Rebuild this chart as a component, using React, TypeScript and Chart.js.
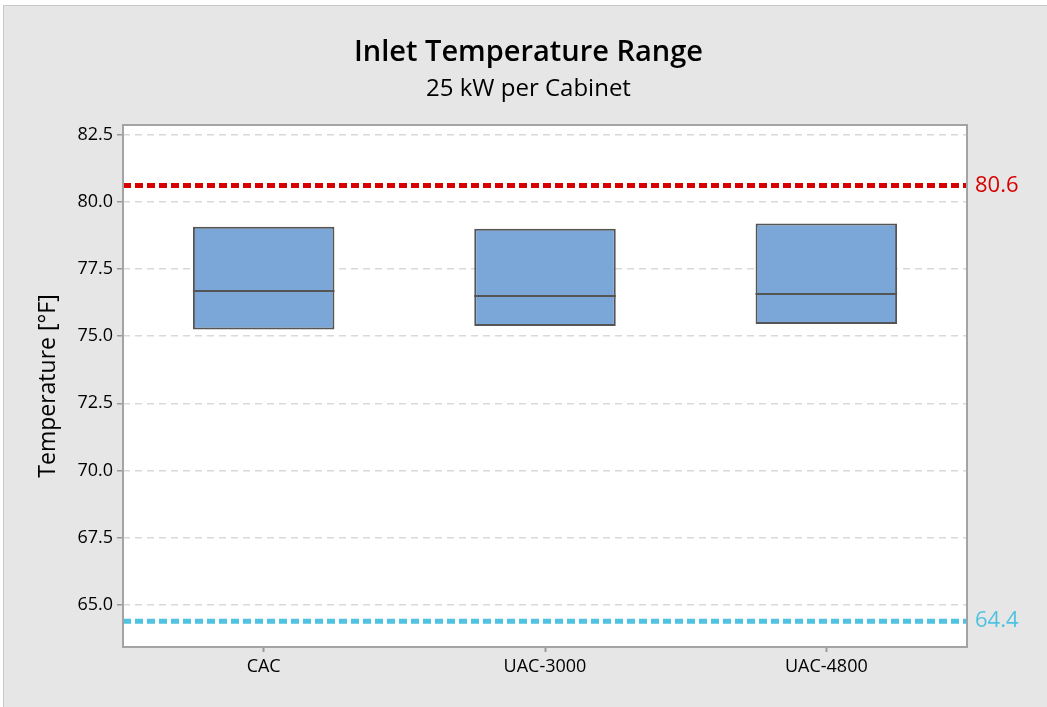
import React, { useEffect, useRef } from 'react';
import { Chart, registerables } from 'chart.js';

Chart.register(...registerables);

const CATEGORIES = ['CAC', 'UAC-3000', 'UAC-4800'];
const Q1 = [75.25, 75.38, 75.45];
const MEDIAN = [76.66, 76.5, 76.58];
const Q3 = [79.07, 78.99, 79.19];
const Y_TICKS = [65, 67.5, 70, 72.5, 75, 77.5, 80, 82.5];
const Y_MIN = 63.44;
const Y_MAX = 82.85;
const REF_VALUES = [80.6, 64.4];
const REF_LABELS = ['80.6', '64.4'];
const REF_COLORS = ['#d70000', '#4fc3e1'];

const FONT = "'Open Sans', 'DejaVu Sans', sans-serif";
const BOX_FILL = '#7ba7d8';
const BOX_EDGE = '#555555';
const FRAME = '#a3a3a3';

const framePlugin = {
  id: 'frame',
  beforeDraw(chart: any) {
    const { ctx, chartArea: a } = chart;
    ctx.save();
    ctx.fillStyle = '#ffffff';
    ctx.fillRect(a.left, a.top, a.right - a.left, a.bottom - a.top);
    ctx.restore();
  },
  afterDatasetsDraw(chart: any) {
    const { ctx } = chart;
    const y = chart.scales.y;
    const meta = chart.getDatasetMeta(0);
    ctx.save();
    ctx.strokeStyle = BOX_EDGE;
    ctx.lineWidth = 2;
    meta.data.forEach((bar: any, i: number) => {
      const py = Math.round(y.getPixelForValue(MEDIAN[i]));
      ctx.beginPath();
      ctx.moveTo(bar.x - bar.width / 2, py);
      ctx.lineTo(bar.x + bar.width / 2, py);
      ctx.stroke();
    });
    ctx.restore();
  },
  afterDraw(chart: any) {
    const { ctx, chartArea: a } = chart;
    const y = chart.scales.y;
    ctx.save();
    REF_VALUES.forEach((v, i) => {
      const py = y.getPixelForValue(v);
      ctx.strokeStyle = REF_COLORS[i];
      ctx.lineWidth = 5;
      ctx.setLineDash([8, 4]);
      ctx.beginPath();
      ctx.moveTo(a.left, py);
      ctx.lineTo(a.right, py);
      ctx.stroke();
      ctx.setLineDash([]);
      ctx.fillStyle = REF_COLORS[i];
      ctx.font = `22px ${FONT}`;
      ctx.textAlign = 'left';
      ctx.textBaseline = 'middle';
      ctx.fillText(REF_LABELS[i], a.right + 8, py);
    });
    ctx.strokeStyle = FRAME;
    ctx.lineWidth = 2;
    ctx.strokeRect(a.left, a.top, a.right - a.left, a.bottom - a.top);
    ctx.restore();
  },
};

export default function App() {
  const ref = useRef<HTMLCanvasElement>(null);

  useEffect(() => {
    const chart = new Chart(ref.current as HTMLCanvasElement, {
      type: 'bar',
      data: {
        labels: CATEGORIES,
        datasets: [
          {
            label: 'IQR',
            data: Q1.map((q, i) => [q, Q3[i]]) as any,
            backgroundColor: BOX_FILL,
            borderColor: BOX_EDGE,
            borderWidth: 2,
            borderSkipped: false,
            barPercentage: 0.503,
            categoryPercentage: 1,
          },
        ],
      },
      options: {
        responsive: false,
        animation: false,
        devicePixelRatio: 1,
        layout: { padding: { left: 10, right: 0, top: 0, bottom: 20 } },
        plugins: {
          legend: { display: false },
          tooltip: { enabled: false },
          title: {
            display: true,
            text: 'Inlet Temperature Range',
            color: '#000',
            font: { family: FONT, size: 29, weight: '600' as any },
            padding: { top: 35.6, bottom: 0 },
          },
          subtitle: {
            display: true,
            text: '25 kW per Cabinet',
            color: '#000',
            font: { family: FONT, size: 24, weight: 'normal' as any },
            padding: { top: 4.2, bottom: 21.6 },
          },
        },
        scales: {
          x: {
            type: 'category',
            offset: true,
            border: { display: false },
            grid: {
              display: true,
              drawOnChartArea: false,
              offset: false,
              tickLength: 5,
              tickColor: '#9a9a9a',
              tickWidth: 2,
            },
            ticks: {
              color: '#000',
              font: { family: FONT, size: 18 },
              padding: 4,
            },
            afterFit: (s: any) => {
              s.height = 40;
            },
          },
          y: {
            type: 'linear',
            min: Y_MIN,
            max: Y_MAX,
            border: { display: false, dash: [7, 5] },
            afterBuildTicks: (s: any) => {
              s.ticks = Y_TICKS.map((v) => ({ value: v }));
            },
            grid: {
              color: '#d9d9d9',
              lineWidth: 1.5,
              tickBorderDash: [],
              tickColor: '#9a9a9a',
              tickLength: 6,
              tickWidth: 1.5,
            } as any,
            ticks: {
              color: '#000',
              font: { family: FONT, size: 18 },
              padding: 4,
              callback: (v: any) => Number(v).toFixed(1),
            },
            title: {
              display: true,
              text: 'Temperature [°F]',
              color: '#000',
              font: { family: FONT, size: 23 },
              padding: { top: 25, bottom: 0 },
            },
            afterFit: (s: any) => {
              s.width = 113;
            },
          },
          y2: {
            type: 'linear',
            position: 'right',
            display: true,
            border: { display: false },
            grid: { display: false },
            ticks: { display: false },
            afterFit: (s: any) => {
              s.width = 80;
            },
          },
        },
      },
      plugins: [framePlugin],
    });
    return () => chart.destroy();
  }, []);

  return (
    <div
      style={{
        position: 'fixed',
        left: 0,
        top: 0,
        width: 1047,
        height: 707,
        background: '#ffffff',
        overflow: 'hidden',
      }}
    >
      <div
        style={{
          position: 'absolute',
          left: 3,
          top: 5,
          right: 0,
          bottom: 0,
          background: '#e6e6e6',
          borderLeft: '1px solid #c8c8c8',
          borderTop: '1px solid #c8c8c8',
        }}
      />
      <canvas
        ref={ref}
        width={1047}
        height={707}
        style={{ position: 'absolute', left: 0, top: 0, width: 1047, height: 707 }}
      />
    </div>
  );
}
